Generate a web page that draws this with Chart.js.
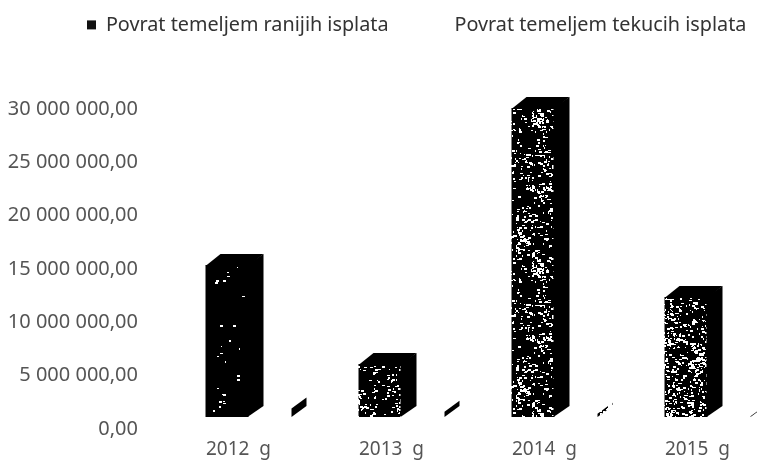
<!DOCTYPE html>
<html><head><meta charset="utf-8">
<style>html,body{margin:0;padding:0;background:#fff;overflow:hidden;width:757px;height:465px}canvas{display:block}</style>
<script src="https://cdn.jsdelivr.net/npm/chart.js@4"></script></head>
<body><canvas id="c" width="790" height="465"></canvas>
<script>
const categories = ['2012  g', '2013  g', '2014  g', '2015  g'];
const earlierPayments = [14250000, 4970000, 28970000, 11250000];
const currentPayments = [800000, 500000, 300000, 80000];
const seriesNames = ['Povrat temeljem ranijih isplata', 'Povrat temeljem tekucih isplata'];
const speckle = [0.012, 0.14, 0.16, 0.24];
const sideSpeckle = [0, 0, 0.45, 0.2];

function pattern(density, seed) {
  const t = document.createElement('canvas');
  t.width = 43; t.height = 150;
  const g = t.getContext('2d');
  g.fillStyle = '#000'; g.fillRect(0, 0, 43, 150);
  g.fillStyle = '#fff';
  let s = seed;
  const next = () => (s = (s * 16807) % 2147483647) / 2147483647;
  const n = Math.round(43 * 150 * density / 2.5);
  let cx = 10, cy = 10;
  for (let i = 0; i < n; i++) {
    if (i % 12 === 0) { cx = next() * 38; cy = next() * 150; }
    const near = next() < 0.6;
    const x = Math.floor(near ? cx + next() * 12 - 6 : next() * 43);
    const y = Math.floor(near ? cy + next() * 18 - 9 : next() * 150);
    g.fillRect(x, y, 1 + Math.floor(next() * 3), 1 + Math.floor(next() * 2));
  }
  return g.createPattern(t, 'repeat');
}

const DX = 15, DY = 11;
const depth = {
  id: 'depth',
  afterDatasetsDraw(chart) {
    const ctx = chart.ctx;
    chart.data.datasets.forEach((ds, d) => {
      chart.getDatasetMeta(d).data.forEach((b, i) => {
        const p = b.getProps(['x', 'y', 'base', 'width'], true);
        const l = p.x - p.width / 2, r = p.x + p.width / 2;
        const e = d === 0 ? 1 : 0;
        ctx.save();
        ctx.fillStyle = d === 0 ? '#000' : pattern(sideSpeckle[i], 97 + i);
        ctx.beginPath();
        ctx.moveTo(r - e, p.y); ctx.lineTo(r + DX, p.y - DY);
        ctx.lineTo(r + DX, p.base - DY); ctx.lineTo(r - e, p.base);
        ctx.closePath(); ctx.fill();
        if (d === 0) {
          ctx.beginPath();
          ctx.moveTo(l, p.y + e); ctx.lineTo(l + DX, p.y - DY);
          ctx.lineTo(r + DX, p.y - DY); ctx.lineTo(r, p.y + e);
          ctx.closePath(); ctx.fill();
        }
        ctx.restore();
      });
    });
  }
};
const placeLegend = {
  id: 'placeLegend',
  beforeLayout(chart) {
    const L = chart.legend;
    if (L && !L._wrapped) {
      const fit = L.fit;
      L.fit = function () { this.maxWidth = 2000; fit.call(this); this.height = 37; this.width = 790; };
      L._wrapped = true;
    }
  },
  beforeDraw(chart) {
    const L = chart.legend;
    L.left = 87 - 47; L.right = 2000; L.top = -32;
  }
};

new Chart(document.getElementById('c'), {
  type: 'bar',
  data: {
    labels: categories,
    datasets: [
      { label: seriesNames[0], data: earlierPayments, backgroundColor: speckle.map((v, i) => pattern(v, 1234 + i * 77)), borderWidth: 0 },
      { label: seriesNames[1], data: currentPayments, backgroundColor: 'rgba(0,0,0,0)', borderWidth: 0 }
    ]
  },
  options: {
    responsive: false,
    animation: false,
    categoryPercentage: 0.562,
    barPercentage: 1,
    layout: { padding: { top: 60, left: 0, right: 6, bottom: 0 } },
    scales: {
      x: {
        grid: { display: false, drawTicks: false },
        border: { display: false },
        afterFit(s) { s.height = 48; },
        ticks: { color: '#555', font: { family: 'Noto Sans', size: 19 }, labelOffset: -10, padding: 21, maxRotation: 0 }
      },
      y: {
        min: 0, max: 30000000,
        grid: { display: false, drawTicks: false },
        border: { display: false },
        afterFit(s) { s.width = 172; },
        ticks: {
          stepSize: 5000000, color: '#555', padding: 34, labelOffset: 12,
          font: { family: 'Noto Sans', size: 20 },
          callback: v => String(v).replace(/\B(?=(\d{3})+$)/g, ' ') + ',00'
        }
      }
    },
    plugins: {
      tooltip: { enabled: false },
      legend: {
        position: 'top', align: 'start',
        labels: {
          color: '#333', font: { family: 'Noto Sans', size: 19.8 }, boxWidth: 9, boxHeight: 9, padding: 47,
          generateLabels(chart) {
            return seriesNames.map((n, i) => ({
              text: n, datasetIndex: i, lineWidth: 0,
              fillStyle: i === 0 ? '#111' : 'rgba(0,0,0,0)', strokeStyle: 'rgba(0,0,0,0)', fontColor: '#333'
            }));
          }
        }
      }
    }
  },
  plugins: [depth, placeLegend]
});
</script></body></html>
